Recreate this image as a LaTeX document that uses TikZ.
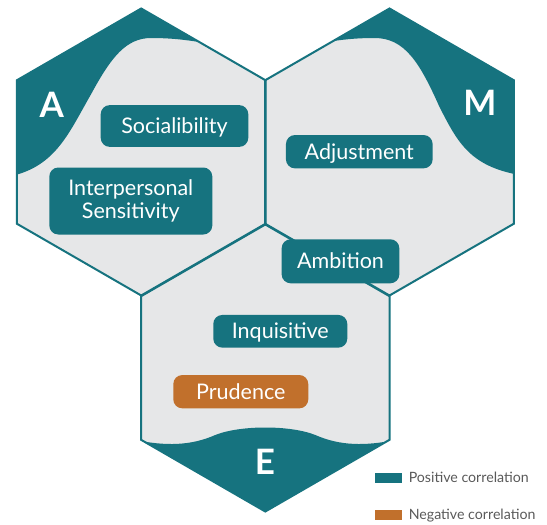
\documentclass[tikz,border=0pt]{standalone}
\usepackage{fontspec}
\setmainfont{Lato}
\usetikzlibrary{positioning}

\definecolor{hteal}{HTML}{16737F}
\definecolor{horange}{HTML}{C1702C}
\definecolor{hgrey}{HTML}{E6E7E8}
\definecolor{keygrey}{HTML}{595959}
\newcommand{\hexpath}{(0,-143.5) -- (124.3,-71.75) -- (124.3,71.75) -- (0,143.5) -- (-124.3,71.75) -- (-124.3,-71.75) -- cycle}

\begin{document}
\begin{tikzpicture}
  [x=1pt,y=-1pt,
   tagbase/.style={rounded corners=9pt,fill=hteal,text=white,inner sep=0pt,font=\fontsize{21.5}{23.7}\selectfont},
   tag/.style={tagbase,text height=15.2pt,text depth=0pt},
   negtag/.style={tag,fill=horange},
   letter/.style={text=white,inner sep=0pt,text height=25pt,text depth=0pt,font=\fontsize{35}{35}\selectfont\bfseries},
   swatch/.style={fill=#1,minimum width=26.7pt,minimum height=10pt,inner sep=0pt},
   keytext/.style={text=keygrey,inner sep=0pt,text height=10.3pt,text depth=0pt,font=\fontsize{14.2}{16}\selectfont}]

  \useasboundingbox (0,0) rectangle (547,525);

  \coordinate (hA) at (141.2,152);
  \coordinate (hM) at (389.5,152);
  \coordinate (hE) at (265.3,368);

  \foreach \h in {hA,hM,hE}
    \fill[hgrey,shift={(\h)}] \hexpath;

  \begin{scope}[shift={(hA)}]
    \clip \hexpath;
    \fill[hteal] (-130,24) .. controls (-85,14) and (-72,-20) .. (-50,-58)
      .. controls (-30,-95) and (-15,-114) .. (10,-114)
      .. controls (30,-114) and (45,-112) .. (58,-110)
      -- (58,-200) -- (-200,-200) -- (-200,24) -- cycle;
  \end{scope}
  \begin{scope}[shift={(hM)}]
    \clip \hexpath;
    \fill[hteal] (130,23) .. controls (80,14) and (68,-10) .. (50,-45)
      .. controls (30,-90) and (15,-114) .. (-15,-114)
      .. controls (-30,-114) and (-42,-113) .. (-56,-111)
      -- (-56,-200) -- (200,-200) -- (200,23) -- cycle;
  \end{scope}
  \begin{scope}[shift={(hE)}]
    \clip \hexpath;
    \fill[hteal] (-130,72) .. controls (-100,78) and (-75,78) .. (-50,67)
      .. controls (-25,57) and (25,57) .. (50,67)
      .. controls (75,78) and (100,78) .. (130,72)
      -- (130,200) -- (-130,200) -- cycle;
  \end{scope}

  \foreach \h in {hA,hM,hE}
    \draw[hteal,line width=2pt,shift={(\h)}] \hexpath;

  \node[letter] (la) at (51.7,105) {A};
  \node[letter] (lm) at (480,103) {M};
  \node[letter] (le) at (265,462) {E};

  \node[tag,minimum width=147.6pt,minimum height=41.7pt] (soc) at (174.5,126) {Socialibility};
  \node[tagbase,align=center,minimum width=163pt,minimum height=67pt] (ips) at (130.8,201) {Interpersonal\\Sensitivity};
  \node[tag,minimum width=146.7pt,minimum height=33.3pt] (adj) at (359.3,151.7) {Adjustment};
  \node[tag,minimum width=117.7pt,minimum height=44pt] (amb) at (340.5,261.3) {Ambition};
  \node[tag,minimum width=134pt,minimum height=32.7pt] (inq) at (280.3,331.3) {Inquisitive};
  \node[negtag,minimum width=135pt,minimum height=33.3pt] (pru) at (240.8,391.7) {Prudence};

  \node[swatch=hteal] (pos) at (388.3,477.7) {};
  \node[keytext,right=6.7pt of pos] (postext) {Positive correlation};
  \node[swatch=horange] (neg) at (388.3,514.7) {};
  \node[keytext,right=6.7pt of neg] (negtext) {Negative correlation};
\end{tikzpicture}
\end{document}
